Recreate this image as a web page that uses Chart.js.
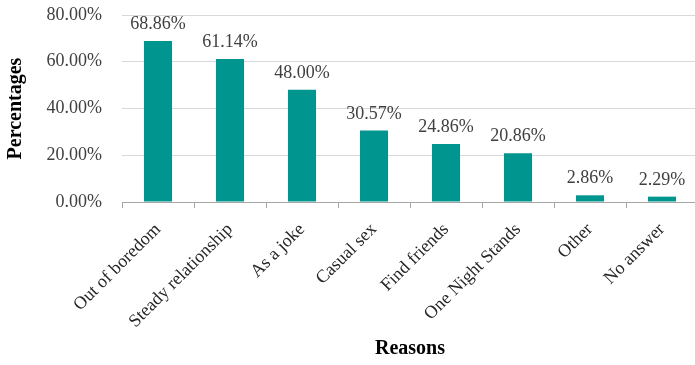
<!DOCTYPE html>
<html>
<head>
<meta charset="utf-8">
<script src="https://cdn.jsdelivr.net/npm/chart.js@4/dist/chart.umd.min.js"></script>
<style>
html,body{margin:0;padding:0;background:#fff;overflow:hidden;}
#wrap{width:705px;height:365px;position:relative;}
</style>
</head>
<body>
<div id="wrap"><canvas id="c"></canvas></div>
<script>
const categories = ["Out of boredom","Steady relationship","As a joke","Casual sex","Find friends","One Night Stands","Other","No answer"];
const percentages = [68.86, 61.14, 48.00, 30.57, 24.86, 20.86, 2.86, 2.29];
const yTicks = [0, 20, 40, 60, 80];

const FONT = "'Liberation Serif', 'Times New Roman', serif";

const labelPlugin = {
  id: 'barLabels',
  afterDatasetsDraw(chart) {
    const ctx = chart.ctx;
    const meta = chart.getDatasetMeta(0);
    ctx.save();
    ctx.font = "18px " + FONT;
    ctx.fillStyle = "#404040";
    ctx.textAlign = "center";
    ctx.textBaseline = "alphabetic";
    meta.data.forEach((bar, i) => {
      ctx.fillText(percentages[i].toFixed(2) + "%", bar.x, bar.y - 12);
    });
    ctx.restore();
  }
};

new Chart(document.getElementById('c'), {
  type: 'bar',
  data: {
    labels: categories,
    datasets: [{
      data: percentages,
      backgroundColor: '#00958F',
      borderWidth: 0,
      categoryPercentage: 1.0,
      barPercentage: 0.39
    }]
  },
  options: {
    responsive: true,
    maintainAspectRatio: false,
    animation: false,
    layout: { padding: { top: 15, right: 7, bottom: 0, left: 0 } },
    plugins: { legend: { display: false }, tooltip: { enabled: false } },
    scales: {
      x: {
        grid: { drawOnChartArea: false, drawTicks: true, tickLength: 6, color: '#a6a6a6', offset: true },
        border: { color: '#a6a6a6', width: 1 },
        ticks: { minRotation: 45, maxRotation: 45, padding: 11, color: '#262626', font: { family: FONT, size: 18 } },
        title: { display: true, text: 'Reasons', color: '#000', font: { family: FONT, size: 20, weight: 'bold' } },
        afterFit(scale) { scale.height = 163; scale.paddingLeft = 0; scale.paddingRight = 0; }
      },
      y: {
        min: 0, max: 80,
        afterBuildTicks(scale) { scale.ticks = yTicks.map(v => ({ value: v })); },
        grid: { color: '#d9d9d9', drawTicks: false },
        border: { display: false },
        ticks: { padding: 20, color: '#404040', font: { family: FONT, size: 18 },
                 callback: v => v.toFixed(2) + '%' },
        title: { display: true, text: 'Percentages', color: '#000', font: { family: FONT, size: 20, weight: 'bold' } },
        afterFit(scale) { scale.width = 122; scale.paddingTop = 0; scale.paddingBottom = 0; }
      }
    }
  },
  plugins: [labelPlugin]
});
</script>
</body>
</html>
